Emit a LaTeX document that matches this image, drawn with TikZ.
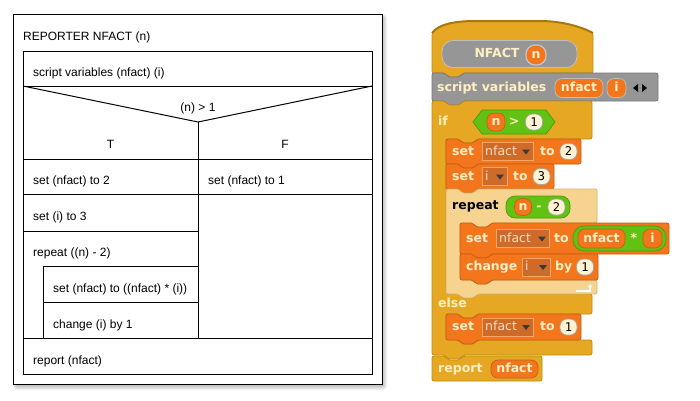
\documentclass[tikz,border=0pt]{standalone}
\usepackage{fontspec}
\setmainfont{Liberation Sans}
\newfontfamily\snapfont{DejaVu Sans}
\newfontfamily\snapmono{DejaVu Sans Mono}
\usetikzlibrary{arrows.meta}
\definecolor{gold}{HTML}{E6A822}
\definecolor{goldedge}{HTML}{BE8916}
\definecolor{hatedge}{HTML}{A87810}
\definecolor{tanc}{HTML}{F6D38F}
\definecolor{tanedge}{HTML}{D9B46C}
\definecolor{orng}{HTML}{F3761D}
\definecolor{orngedge}{HTML}{C95F12}
\definecolor{grn}{HTML}{62C213}
\definecolor{grnedge}{HTML}{4C9A0E}
\definecolor{gry}{HTML}{969696}
\definecolor{gryedge}{HTML}{787878}
\definecolor{cream}{HTML}{FFEFC2}
\definecolor{slotfill}{HTML}{FFF3D4}
\definecolor{ddfill}{HTML}{CF6B28}
\definecolor{ddedge}{HTML}{F5A46A}
\definecolor{ddtext}{HTML}{FADCC4}
\definecolor{ddtri}{HTML}{3A3A3A}
\newcommand\snapB{\snapfont\bfseries\fontsize{12.5bp}{14bp}\selectfont}
\newcommand\snapR{\snapfont\fontsize{12.5bp}{14bp}\selectfont}
\newcommand\snapN{\snapmono\fontsize{12bp}{14bp}\selectfont}
\newcommand\cmdblock[5]{%
 \path[#1] (#2,#3) -- (#2+13,#3) -- (#2+16,#3+4) -- (#2+28,#3+4) -- (#2+31,#3) -- (#2+#4,#3) -- (#2+#4,#3+#5) -- (#2+31,#3+#5) -- (#2+28,#3+#5+4) -- (#2+16,#3+#5+4) -- (#2+13,#3+#5) -- (#2,#3+#5) -- cycle;}
\newcommand\dropdown[5]{%
 \node[dd, minimum width=#4bp, anchor=west] (#1) at (#2,#3) {};
 \node[ddlab] (#1t) at (#2+3,#3) {#5};
 \fill[ddtri] (#2+#4-11,#3-2) -- (#2+#4-3,#3-2) -- (#2+#4-7,#3+3) -- cycle;}
\tikzset{
 nsdline/.style={line width=1bp, draw=black},
 nsdtxt/.style={anchor=west, inner sep=0pt, text height=8.6bp, text depth=0pt, font=\fontsize{12bp}{14bp}\selectfont},
 nsdc/.style={nsdtxt, anchor=center},
 goldblk/.style={fill=gold, draw=goldedge, line width=0.8bp, rounded corners=2bp},
 tanblk/.style={fill=tanc, draw=tanedge, line width=0.8bp, rounded corners=2bp},
 orblk/.style={fill=orng, draw=orngedge, line width=0.8bp, rounded corners=2bp},
 gryblk/.style={fill=gry, draw=gryedge, line width=0.8bp, rounded corners=2bp},
 blab/.style={anchor=west, inner sep=0pt, text height=7.4bp, text depth=0pt, font=\snapB, text=cream},
 orpill/.style={fill=orng, draw=orngedge, line width=0.7bp, rounded corners=7bp, inner sep=0pt, minimum height=19bp, text=cream, font=\snapB, text height=7.4bp, text depth=0pt},
 grnpill/.style={fill=grn, draw=grnedge, line width=0.7bp, rounded corners=9bp, inner sep=0pt},
 slot/.style={fill=slotfill, draw=black!35, line width=0.7bp, rounded corners=7bp, minimum height=16bp, minimum width=17bp, inner sep=0pt, font=\snapN, text=black, text height=8.5bp, text depth=0pt},
 dd/.style={fill=ddfill, draw=ddedge, line width=0.7bp, inner sep=0pt, minimum height=18bp},
 ddlab/.style={anchor=west, inner sep=0pt, text height=7.4bp, text depth=0pt, font=\snapR, text=ddtext},
}
\begin{document}
\begin{tikzpicture}[x=1bp,y=-1bp]
\useasboundingbox (0,0) rectangle (700,400);
\fill[white] (0,0) rectangle (700,400);
% ---------------- Nassi-Shneiderman diagram ----------------
\foreach \s in {0,...,4} \fill[black,opacity=0.05,rounded corners=\s bp] (17-\s,18-\s) rectangle (383+\s,386+\s);
\draw[nsdline, fill=white] (13,14) rectangle (382,384);
\draw[nsdline] (23,51) rectangle (372,374);
\draw[nsdline] (23,86) -- (372,86);
\draw[nsdline] (23,86) -- (198,122) -- (372,86);
\draw[nsdline] (198,122) -- (198,338);
\draw[nsdline] (23,159) -- (372,159);
\draw[nsdline] (23,194) -- (372,194);
\draw[nsdline] (23,231) -- (198,231);
\draw[nsdline] (43,266) -- (198,266);
\draw[nsdline] (43,266) -- (43,338);
\draw[nsdline] (43,302) -- (198,302);
\draw[nsdline] (23,338) -- (372,338);
\node[nsdtxt] (title) at (23,36) {REPORTER NFACT (n)};
\node[nsdtxt] (vars) at (33,72) {script variables (nfact) (i)};
\node[nsdc] (cond) at (198,107) {(n) > 1};
\node[nsdc] (tlab) at (110.5,144) {T};
\node[nsdc] (flab) at (285,144) {F};
\node[nsdtxt] (t1) at (33,180) {set (nfact) to 2};
\node[nsdtxt] (f1) at (208,180) {set (nfact) to 1};
\node[nsdtxt] (t2) at (33,216) {set (i) to 3};
\node[nsdtxt] (t3) at (33,252) {repeat ((n) - 2)};
\node[nsdtxt] (t4) at (53,288) {set (nfact) to ((nfact) * (i))};
\node[nsdtxt] (t5) at (53,324) {change (i) by 1};
\node[nsdtxt] (rep) at (33,360) {report (nfact)};
% ---------------- Snap! script ----------------
% hat block
\path[goldblk] (432,73) -- (432,33) .. controls (438,25) and (452,21) .. (476,21) -- (540,21) .. controls (562,21) and (582,27) .. (593,33) -- (593,73) -- (463,73) -- (460,77) -- (448,77) -- (445,73) -- cycle;
\draw[hatedge, line width=2bp] (432,33) .. controls (438,25) and (452,21) .. (476,21) -- (540,21) .. controls (562,21) and (582,27) .. (593,33);
\node[fill=gry, draw=black!25, line width=0.8bp, rounded corners=11bp, minimum width=135bp, minimum height=27bp, inner sep=0pt] (proto) at (509.5,54) {};
\node[blab, anchor=center] (protoname) at (497,54) {NFACT};
\node[orpill, minimum width=20bp, minimum height=20bp, rounded corners=9bp, draw=black!22, line width=1.2bp] (protoin) at (536,55) {n};
% script variables
\cmdblock{gryblk}{432}{73}{226}{28}
\node[blab] (svlab) at (437,88) {script variables};
\node[orpill, minimum width=48bp, draw=black!25] (sv1) at (579,88) {nfact};
\node[orpill, minimum width=19bp, draw=black!25] (sv2) at (616.5,88) {i};
\fill[black] (633,88) -- (638,84) -- (638,92) -- cycle;
\fill[black] (642,84) -- (647,88) -- (642,92) -- cycle;
% if / else block
\path[goldblk] (432,101) -- (445,101) -- (448,105) -- (460,105) -- (463,101) -- (592,101) -- (592,139) -- (477,139) -- (474,143) -- (462,143) -- (459,139) -- (446,139) -- (446,294) -- (459,294) -- (462,298) -- (474,298) -- (477,294) -- (592,294) -- (592,314) -- (477,314) -- (474,318) -- (462,318) -- (459,314) -- (446,314) -- (446,340) -- (459,340) -- (462,344) -- (474,344) -- (477,340) -- (592,340) -- (592,355) -- (463,355) -- (460,359) -- (448,359) -- (445,355) -- (432,355) -- cycle;
\node[blab] (iflab) at (438,122) {if};
\path[fill=grn, draw=grnedge, line width=0.7bp] (473,122) -- (482,110) -- (546,110) -- (555,122) -- (546,134) -- (482,134) -- cycle;
\node[orpill, minimum width=18bp, minimum height=18bp] (ifn) at (496,122) {n};
\node[blab, anchor=center] (ifgt) at (514,122) {>};
\node[slot] (if1) at (534,122) {1};
% set nfact to 2
\cmdblock{orblk}{446}{139}{135}{25}
\node[blab] (s2a) at (452,151.5) {set};
\dropdown{s2d}{482}{151.5}{51}{nfact}
\node[blab] (s2b) at (540,151.5) {to};
\node[slot] (s2v) at (568.5,151.5) {2};
% set i to 3
\cmdblock{orblk}{446}{164}{108}{25}
\node[blab] (s3a) at (452,176.5) {set};
\dropdown{s3d}{482}{176.5}{25}{i}
\node[blab] (s3b) at (513,176.5) {to};
\node[slot] (s3v) at (541.5,176.5) {3};
% repeat
\path[tanblk] (446,189) -- (459,189) -- (462,193) -- (474,193) -- (477,189) -- (597,189) -- (597,223) -- (491,223) -- (488,227) -- (476,227) -- (473,223) -- (460,223) -- (460,280) -- (473,280) -- (476,284) -- (488,284) -- (491,280) -- (597,280) -- (597,294) -- (477,294) -- (474,298) -- (462,298) -- (459,294) -- (446,294) -- cycle;
\node[blab, text=black] (rplab) at (452,206) {repeat};
\node[grnpill, minimum width=64bp, minimum height=22bp] (rpm) at (538,207) {};
\node[orpill, minimum width=17bp, minimum height=17bp] (rpn) at (523,207) {n};
\node[blab, anchor=center] (rpminus) at (539,207) {-};
\node[slot] (rp2) at (556.5,207) {2};
\draw[white, line width=1.2bp, -{Stealth[length=3bp,width=4bp]}] (576,291) -- (590,291) -- (590,284);
% set nfact to nfact * i
\cmdblock{orblk}{460}{223}{209}{31}
\node[blab] (isa) at (466,238.5) {set};
\dropdown{isd}{496}{238.5}{53}{nfact}
\node[blab] (isb) at (554,238.5) {to};
\node[grnpill, minimum width=93bp, minimum height=25bp, rounded corners=11bp] (ism) at (619.5,238.5) {};
\node[orpill, minimum width=47bp] (isv) at (601.5,238.5) {nfact};
\node[blab, anchor=center] (istimes) at (634,238.5) {*};
\node[orpill, minimum width=19bp] (isi) at (652.5,238.5) {i};
% change i by 1
\cmdblock{orblk}{460}{254}{138}{26}
\node[blab] (cha) at (466,267) {change};
\dropdown{chd}{522}{267}{28}{i}
\node[blab] (chb) at (555,267) {by};
\node[slot] (ch1) at (585,267) {1};
% else
\node[blab] (elselab) at (438,304) {else};
% set nfact to 1
\cmdblock{orblk}{446}{314}{135}{26}
\node[blab] (s1a) at (452,327) {set};
\dropdown{s1d}{482}{327}{51}{nfact}
\node[blab] (s1b) at (540,327) {to};
\node[slot] (s1v) at (568.5,327) {1};
% report
\path[goldblk] (432,356) -- (445,356) -- (448,360) -- (460,360) -- (463,356) -- (542,356) -- (542,381) -- (432,381) -- cycle;
\node[blab] (rplab2) at (438,369) {report};
\node[orpill, minimum width=47bp, minimum height=18bp] (rpv) at (514.5,369) {nfact};
\end{tikzpicture}
\end{document}
